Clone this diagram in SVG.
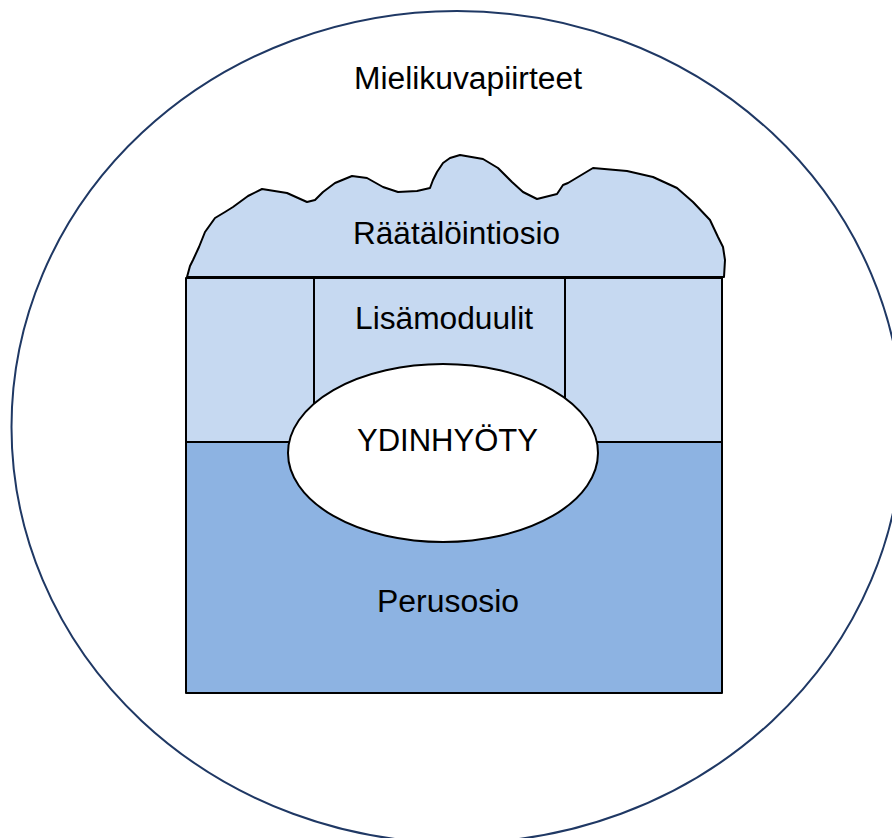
<svg xmlns="http://www.w3.org/2000/svg" width="892" height="838" viewBox="0 0 892 838">
<style>
.lbl{font-family:"Liberation Sans",Arial,sans-serif;font-size:31px;fill:#000;text-anchor:middle}
.edge{stroke:#000;stroke-width:2;stroke-linejoin:round}
.light{fill:#C6D9F1}
.dark{fill:#8DB3E2}
</style>
<rect width="892" height="838" fill="#fff"/>
<g id="mielikuvapiirteet">
<ellipse cx="457" cy="427" rx="445.5" ry="416" fill="#fff" stroke="#1F3864" stroke-width="2"/>
<text class="lbl" x="468" y="89" textLength="228" lengthAdjust="spacingAndGlyphs">Mielikuvapiirteet</text>
</g>
<g id="raatalointiosio">
<path class="edge light" d="M187,277 L190,266 L193,260 L199,247 L205,232 L215,218 L225,212 L233,207 L248,196 L262,189 L287,193 L307,202 L315,200 L323,192 L335,183 L352,176 L367,178 L383,187 L398,192 L417,191 L430,188 L433,180 L437,172 L443,163 L450,158 L460,155 L483,159 L498,168 L512,182 L523,192 L537,199 L557,194 L563,185 L568,183 L593,168 L627,171 L653,177 L677,188 L693,202 L710,220 L718,237 L723,247 L725,260 L724,277 Z"/>
<text class="lbl" x="456.5" y="244" textLength="207" lengthAdjust="spacingAndGlyphs">Räätälöintiosio</text>
</g>
<g id="lisamoduulit">
<rect class="edge light" x="186" y="278" width="536" height="164"/>
<line class="edge" x1="314" y1="278" x2="314" y2="442"/>
<line class="edge" x1="565" y1="278" x2="565" y2="442"/>
<text class="lbl" x="444" y="329" textLength="178" lengthAdjust="spacingAndGlyphs">Lisämoduulit</text>
</g>
<g id="perusosio">
<rect class="edge dark" x="186" y="442" width="536" height="251"/>
<text class="lbl" x="448" y="612" textLength="142" lengthAdjust="spacingAndGlyphs">Perusosio</text>
</g>
<g id="ydinhyoty">
<ellipse class="edge" cx="443" cy="453" rx="155" ry="89" fill="#fff"/>
<text class="lbl" x="447.5" y="451" textLength="181" lengthAdjust="spacingAndGlyphs">YDINHYÖTY</text>
</g>
</svg>
